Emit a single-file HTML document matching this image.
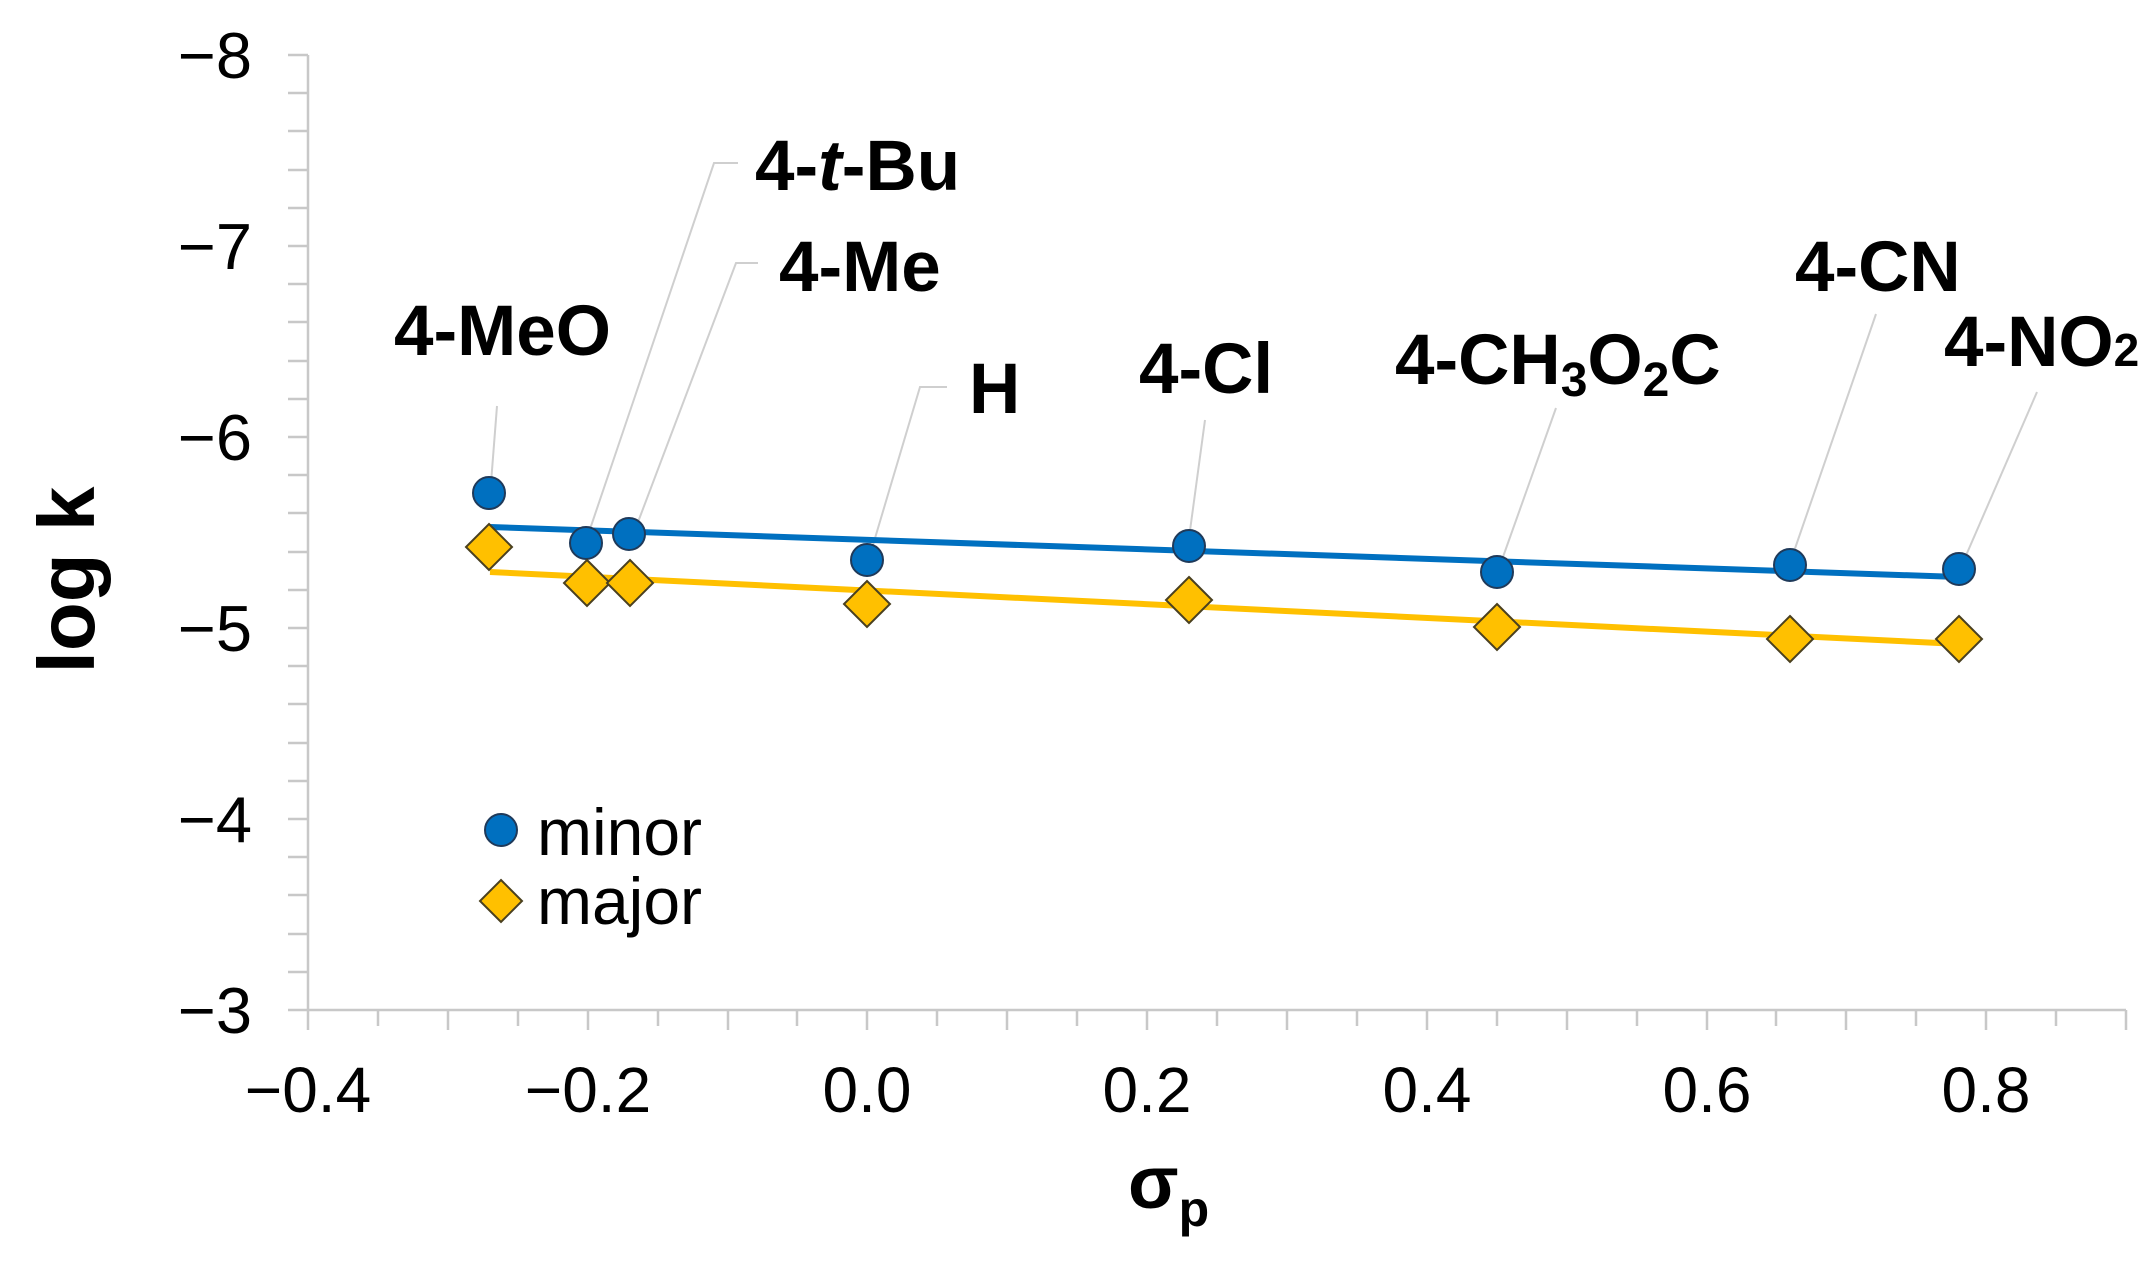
<!DOCTYPE html>
<html><head><meta charset="utf-8"><style>html,body{margin:0;padding:0;background:#fff}svg{display:block}</style></head>
<body>
<svg width="2152" height="1279" viewBox="0 0 2152 1279" xmlns="http://www.w3.org/2000/svg" font-family="'Liberation Sans', Arial, sans-serif">
<g stroke="#c8c8c8" stroke-width="2.5" fill="none">
<line x1="308" y1="55" x2="308" y2="1010"/>
<line x1="308" y1="1010" x2="2126" y2="1010"/>
<path d="M288 55H308M288 93H308M288 131H308M288 170H308M288 208H308M288 246H308M288 284H308M288 322H308M288 361H308M288 399H308M288 437H308M288 475H308M288 513H308M288 552H308M288 590H308M288 628H308M288 666H308M288 704H308M288 743H308M288 781H308M288 819H308M288 857H308M288 895H308M288 934H308M288 972H308M288 1010H308"/>
<path d="M308 1010V1030M378 1010V1026M448 1010V1030M518 1010V1026M588 1010V1030M658 1010V1026M728 1010V1030M797 1010V1026M867 1010V1030M937 1010V1026M1007 1010V1030M1077 1010V1026M1147 1010V1030M1217 1010V1026M1287 1010V1030M1357 1010V1026M1427 1010V1030M1497 1010V1026M1567 1010V1030M1637 1010V1026M1707 1010V1030M1776 1010V1026M1846 1010V1030M1916 1010V1026M1986 1010V1030M2056 1010V1026M2126 1010V1030"/>
</g>
<g font-size="65" fill="#000" text-anchor="end">
<text x="252" y="78">−8</text><text x="252" y="269">−7</text><text x="252" y="460">−6</text><text x="252" y="651">−5</text><text x="252" y="842">−4</text><text x="252" y="1033">−3</text>
</g>
<g font-size="64" fill="#000" text-anchor="middle">
<text x="308" y="1112">−0.4</text><text x="588" y="1112">−0.2</text><text x="867" y="1112">0.0</text><text x="1147" y="1112">0.2</text><text x="1427" y="1112">0.4</text><text x="1707" y="1112">0.6</text><text x="1986" y="1112">0.8</text>
</g>
<text transform="translate(94,580) rotate(-90)" text-anchor="middle" font-size="80" font-weight="bold">log k</text>
<text x="1128" y="1208" font-size="74" font-weight="bold">σ<tspan font-size="50" dy="18">p</tspan></text>
<g stroke="#cfcfcf" stroke-width="2" fill="none">
<path d="M497 406L491 483"/>
<path d="M738 163H714L587 538"/>
<path d="M758 263H736L635 530"/>
<path d="M947 387H920L870 555"/>
<path d="M1205 420L1189 538"/>
<path d="M1556 408L1498 571"/>
<path d="M1876 314L1790 563"/>
<path d="M2037 392L1961 567"/>
</g>
<line x1="490" y1="527" x2="1959" y2="577" stroke="#0070C0" stroke-width="6"/>
<line x1="490" y1="572" x2="1959" y2="644" stroke="#FFC000" stroke-width="6"/>
<g fill="#0070C0" stroke="#1f3a5a" stroke-width="2">
<circle cx="489" cy="493" r="16"/><circle cx="586" cy="543" r="16"/><circle cx="629" cy="534" r="16"/><circle cx="867" cy="560" r="16"/><circle cx="1189" cy="546" r="16"/><circle cx="1497" cy="572" r="16"/><circle cx="1790" cy="565" r="16"/><circle cx="1959" cy="569" r="16"/>
<circle cx="501" cy="830" r="16"/>
</g>
<g fill="#FFC000" stroke="#4a4020" stroke-width="2">
<path d="M489 524l23 23l-23 23l-23-23z"/><path d="M587 560l23 23l-23 23l-23-23z"/><path d="M630 560l23 23l-23 23l-23-23z"/><path d="M867 581l23 23l-23 23l-23-23z"/><path d="M1189 577l23 23l-23 23l-23-23z"/><path d="M1497 604l23 23l-23 23l-23-23z"/><path d="M1790 616l23 23l-23 23l-23-23z"/><path d="M1959 616l23 23l-23 23l-23-23z"/>
<path d="M501 880l21 21l-21 21l-21-21z"/>
</g>
<g font-size="66" fill="#000"><text x="537" y="855">minor</text><text x="537" y="924">major</text></g>
<g font-size="71" font-weight="bold" fill="#000">
<text x="394" y="355">4-MeO</text>
<text x="755" y="190">4-<tspan font-style="italic">t</tspan>-Bu</text>
<text x="779" y="291">4-Me</text>
<text x="969" y="413">H</text>
<text x="1139" y="393">4-Cl</text>
<text x="1395" y="384">4-CH<tspan font-size="48" dy="12">3</tspan><tspan dy="-12">O</tspan><tspan font-size="48" dy="12">2</tspan><tspan dy="-12">C</tspan></text>
<text x="1795" y="291">4-CN</text>
<text x="1944" y="366">4-NO<tspan font-size="46">2</tspan></text>
</g>
</svg>
</body></html>
